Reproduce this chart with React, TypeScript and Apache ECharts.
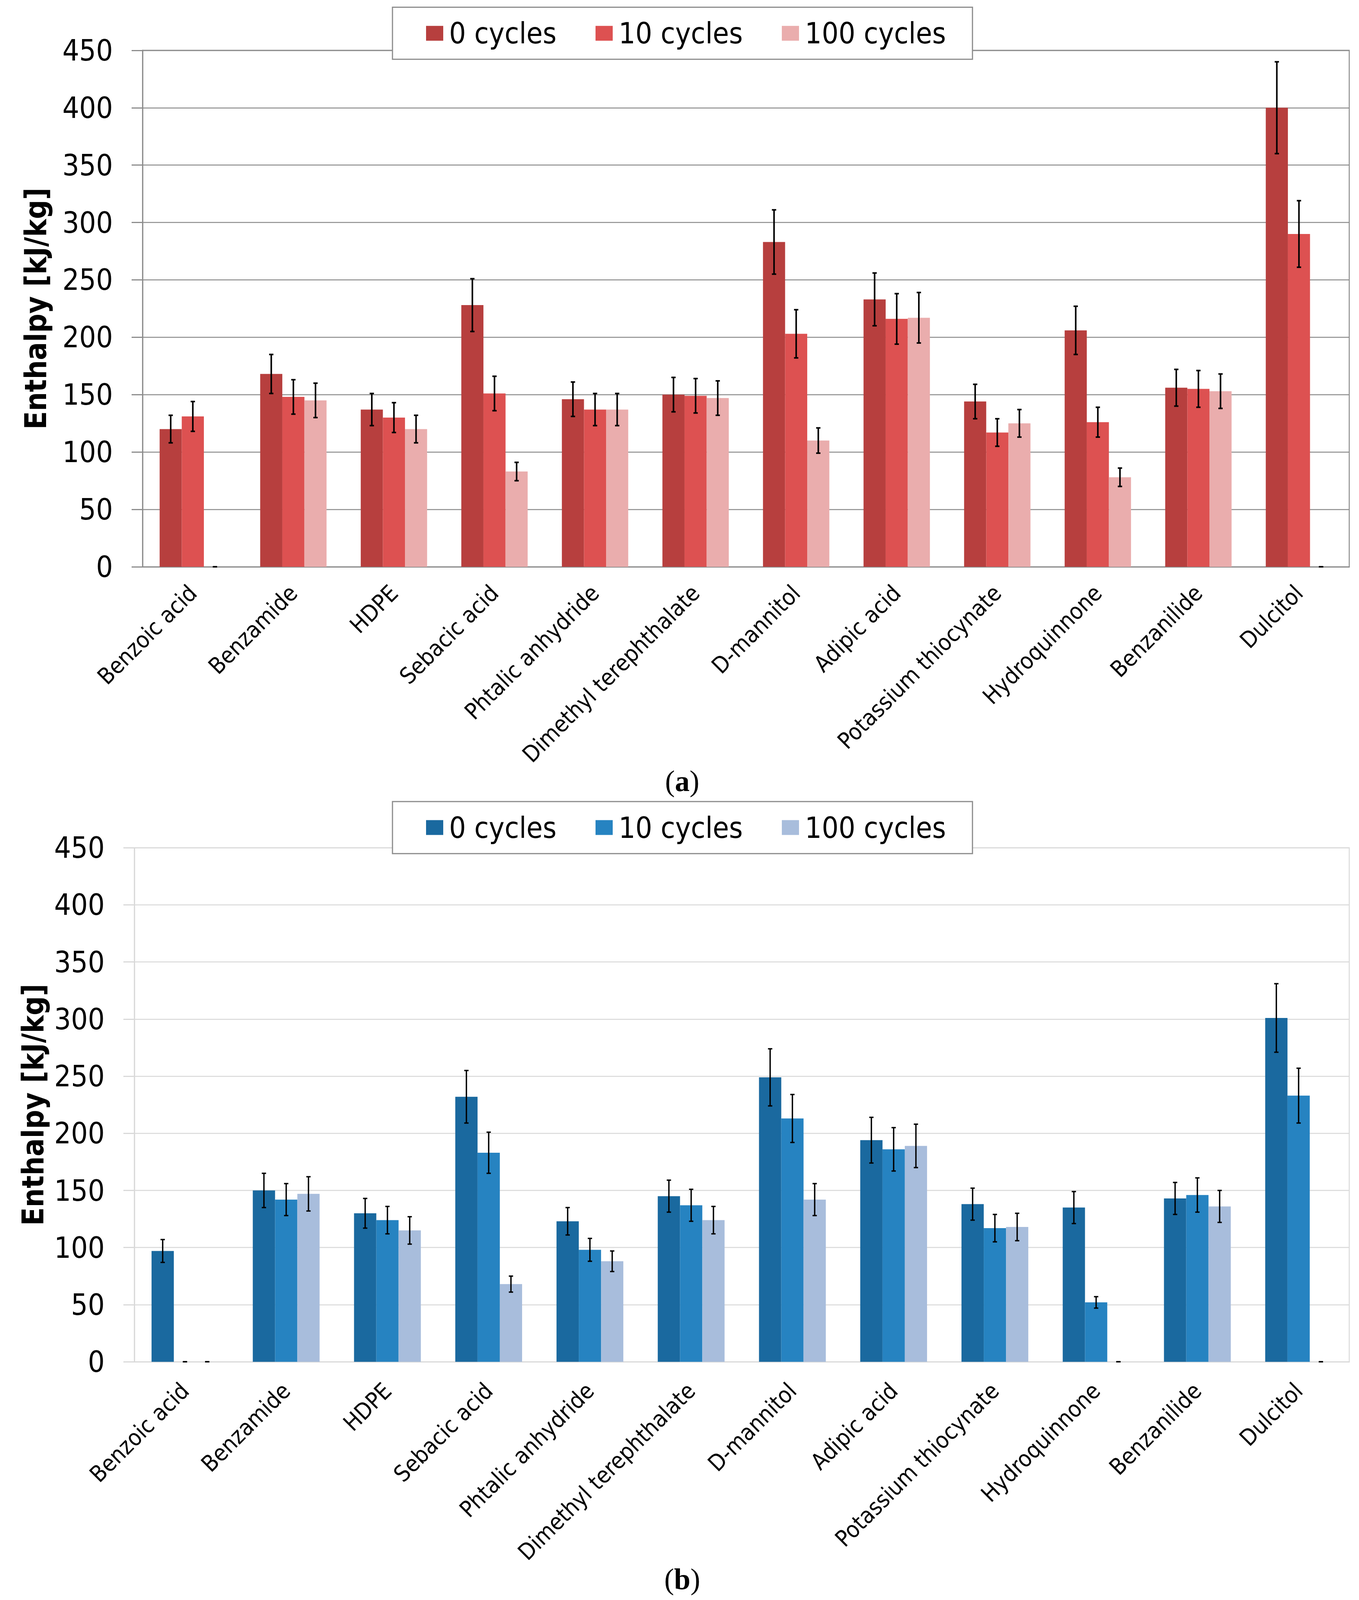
import React, { useEffect, useRef } from "react";
import * as echarts from "echarts";

const categories = [
  "Benzoic acid",
  "Benzamide",
  "HDPE",
  "Sebacic acid",
  "Phtalic anhydride",
  "Dimethyl terephthalate",
  "D-mannitol",
  "Adipic acid",
  "Potassium thiocynate",
  "Hydroquinnone",
  "Benzanilide",
  "Dulcitol",
];

const seriesLabels = ["0 cycles", "10 cycles", "100 cycles"];
const yTicks = [0, 50, 100, 150, 200, 250, 300, 350, 400, 450];

// (a)
const a0 = [120, 168, 137, 228, 146, 150, 283, 233, 144, 206, 156, 400];
const a0Err = [12, 17, 14, 23, 15, 15, 28, 23, 15, 21, 16, 40];
const a10 = [131, 148, 130, 151, 137, 149, 203, 216, 117, 126, 155, 290];
const a10Err = [13, 15, 13, 15, 14, 15, 21, 22, 12, 13, 16, 29];
const a100 = [0, 145, 120, 83, 137, 147, 110, 217, 125, 78, 153, 0];
const a100Err = [0, 15, 12, 8, 14, 15, 11, 22, 12, 8, 15, 0];

// (b)
const b0 = [97, 150, 130, 232, 123, 145, 249, 194, 138, 135, 143, 301];
const b0Err = [10, 15, 13, 23, 12, 14, 25, 20, 14, 14, 14, 30];
const b10 = [0, 142, 124, 183, 98, 137, 213, 186, 117, 52, 146, 233];
const b10Err = [0, 14, 12, 18, 10, 14, 21, 19, 12, 5, 15, 24];
const b100 = [0, 147, 115, 68, 88, 124, 142, 189, 118, 0, 136, 0];
const b100Err = [0, 15, 12, 7, 9, 12, 14, 19, 12, 0, 14, 0];

const redColors = ["#B73F3E", "#DD5151", "#EAADAD"];
const blueColors = ["#1A699F", "#2683C1", "#A8BDDC"];

const FONT = "'DejaVu Sans Condensed', 'DejaVu Sans', sans-serif";
const SERIF = "'Liberation Serif', 'DejaVu Serif', serif";
const CAT_GAP = 0.34;
const REF_W = 3480;
const REF_H = 4641;

function App() {
  const ref = useRef<HTMLDivElement>(null);
  const W = REF_W;
  const H = Math.min(REF_H, typeof window !== "undefined" && window.innerHeight ? window.innerHeight : REF_H);

  useEffect(() => {
    if (!ref.current) return;
    const chart = echarts.init(ref.current, undefined, { renderer: "svg" });

    const s = H / REF_H; // vertical layout scale (viewport may be shorter than the reference)
    const f = (1 + s) / 2; // font scale
    const Y = (v: number) => v * s;

    const panels = [
      {
        key: "a",
        vals: [a0, a10, a100],
        errs: [a0Err, a10Err, a100Err],
        colors: redColors,
        grid: { left: 365, top: Y(146), width: 3090, height: Y(1498) },
        gridColor: "#8C8C8C",
        errWidth: 4,
        legendTop: Y(21),
        labelMargin: Y(65),
        nameGap: 236,
      },
      {
        key: "b",
        vals: [b0, b10, b100],
        errs: [b0Err, b10Err, b100Err],
        colors: blueColors,
        grid: { left: 344, top: Y(2459), width: 3111, height: Y(1491) },
        gridColor: "#D9D9D9",
        errWidth: 3.5,
        legendTop: Y(2325),
        labelMargin: Y(73),
        nameGap: 222,
      },
    ];

    const grids: any[] = [];
    const xAxes: any[] = [];
    const yAxes: any[] = [];
    const series: any[] = [];
    const legends: any[] = [];

    panels.forEach((p, gi) => {
      grids.push({
        ...p.grid,
        show: true,
        borderColor: p.gridColor,
        borderWidth: 2.5,
        backgroundColor: "transparent",
        containLabel: false,
      });
      xAxes.push({
        type: "category",
        gridIndex: gi,
        data: categories,
        axisTick: { show: false },
        axisLine: { show: true, lineStyle: { color: p.gridColor, width: 3 } },
        axisLabel: {
          rotate: 45,
          fontSize: 62 * f,
          fontFamily: FONT,
          color: "#000",
          margin: p.labelMargin,
          interval: 0,
        },
      });
      yAxes.push({
        type: "value",
        gridIndex: gi,
        min: yTicks[0],
        max: yTicks[yTicks.length - 1],
        interval: yTicks[1] - yTicks[0],
        name: "Enthalpy [kJ/kg]",
        nameLocation: "middle",
        nameRotate: 90,
        nameGap: p.nameGap,
        nameTextStyle: {
          fontSize: 84 * s * 1.03,
          fontWeight: "bold",
          fontFamily: FONT,
          color: "#000",
        },
        axisLine: { show: true, lineStyle: { color: p.gridColor, width: 3 } },
        axisTick: {
          show: true,
          length: 28,
          lineStyle: { color: p.gridColor, width: 3 },
        },
        splitLine: { show: true, lineStyle: { color: p.gridColor, width: 2.5 } },
        axisLabel: {
          fontSize: 80 * f,
          fontFamily: FONT,
          color: "#000",
          margin: 76,
        },
      });

      const names = seriesLabels.map((l) => `${l} (${p.key})`);
      legends.push({
        left: 1005,
        top: p.legendTop,
        orient: "horizontal",
        data: names,
        icon: "rect",
        itemWidth: 44,
        itemHeight: Y(43),
        itemGap: 100,
        padding: [Y(33), 68, Y(33), 86],
        borderColor: "#8C8C8C",
        borderWidth: 3,
        backgroundColor: "#fff",
        formatter: (n: string) => n.replace(/ \([ab]\)$/, ""),
        textStyle: {
          fontSize: 80 * f,
          fontFamily: FONT,
          color: "#000",
          padding: [0, 0, 0, 10],
        },
      });

      p.vals.forEach((vals, k) => {
        series.push({
          type: "bar",
          name: names[k],
          xAxisIndex: gi,
          yAxisIndex: gi,
          data: vals,
          barGap: "0%",
          barCategoryGap: `${CAT_GAP * 100}%`,
          itemStyle: { color: p.colors[k] },
          z: 2,
        });
      });
      p.vals.forEach((vals, k) => {
        const errs = p.errs[k];
        series.push({
          type: "custom",
          name: `err-${p.key}-${k}`,
          xAxisIndex: gi,
          yAxisIndex: gi,
          z: 5,
          silent: true,
          encode: { x: 0, y: 1 },
          data: categories.map((_, i) => [i, vals[i], errs[i]]),
          renderItem: (params: any, api: any) => {
            const idx = api.value(0);
            const v = api.value(1);
            const e = api.value(2);
            const catW = api.size([1, 0])[0];
            const barW = (catW * (1 - CAT_GAP)) / 3;
            const c = api.coord([idx, v]);
            const x = c[0] + (k - 1) * barW;
            const yTop = api.coord([idx, v + e])[1];
            const yBot = api.coord([idx, v - e])[1];
            const half = 5.5;
            const st = { stroke: "#000", lineWidth: p.errWidth };
            return {
              type: "group",
              children: [
                { type: "line", shape: { x1: x, y1: yTop, x2: x, y2: yBot }, style: st },
                { type: "line", shape: { x1: x - half, y1: yTop, x2: x + half, y2: yTop }, style: st },
                { type: "line", shape: { x1: x - half, y1: yBot, x2: x + half, y2: yBot }, style: st },
              ],
            };
          },
        });
      });
    });

    const caption = (letter: string, y: number) => ({
      type: "text",
      x: 1747,
      y,
      style: {
        text: `{p|(}{b|${letter}}{p|)}`,
        align: "center",
        verticalAlign: "middle",
        rich: {
          p: { fontSize: 80 * f, fontFamily: SERIF, fill: "#000" },
          b: { fontSize: 80 * f, fontWeight: "bold", fontFamily: SERIF, fill: "#000" },
        },
      },
    });

    chart.setOption({
      animation: false,
      backgroundColor: "#fff",
      grid: grids,
      xAxis: xAxes,
      yAxis: yAxes,
      legend: legends,
      series,
      graphic: [caption("a", Y(2266)), caption("b", Y(4580))],
    });

    return () => chart.dispose();
  }, []);

  return (
    <div
      ref={ref}
      style={{ position: "absolute", left: 0, top: 0, width: W, height: H }}
    />
  );
}

export default App;
